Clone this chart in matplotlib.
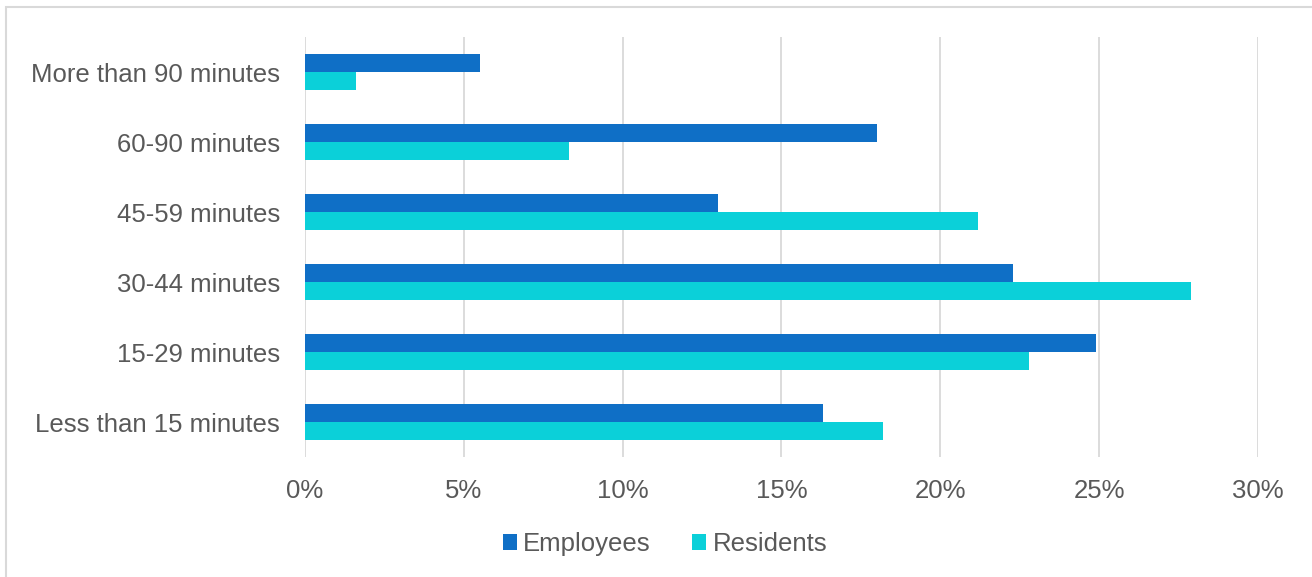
import matplotlib
matplotlib.use('Agg')
import matplotlib.pyplot as plt
from matplotlib.patches import Rectangle
import numpy as np

categories = ['Less than 15 minutes', '15-29 minutes', '30-44 minutes',
              '45-59 minutes', '60-90 minutes', 'More than 90 minutes']
employees = [16.3, 24.9, 22.3, 13.0, 18.0, 5.5]
residents = [18.2, 22.8, 27.9, 21.2, 8.3, 1.6]
xticks = [0, 5, 10, 15, 20, 25, 30]

textColor = '#595959'
gridColor = '#D9D9D9'
fontSize = 18.5
plt.rcParams['font.family'] = ['Liberation Sans', 'DejaVu Sans']

fig = plt.figure(figsize=(13.12, 5.77), dpi=100)
ax = fig.add_axes([305 / 1312, 1 - 457 / 577, (1258 - 305) / 1312, 420 / 577])

# outer frame of the chart
fig.patches.append(Rectangle((6 / 1312, -0.01), 1.0, 1 - 7 / 577 + 0.01,
                             transform=fig.transFigure, fill=False,
                             edgecolor=gridColor, linewidth=1.5))

y = np.arange(len(categories))
h = 0.257
ax.barh(y + h / 2, employees, height=h, color='#0F6FC6', label='Employees')
ax.barh(y - h / 2, residents, height=h, color='#0BD0D9', label='Residents')

ax.set_xlim(0, 30)
ax.set_ylim(-0.5, len(categories) - 0.5)
ax.set_xticks(xticks)
ax.set_xticklabels([str(t) + '%' for t in xticks])
ax.set_yticks(y)
ax.set_yticklabels(categories)
ax.tick_params(axis='both', length=0, colors=textColor, labelsize=fontSize)
ax.tick_params(axis='x', pad=16)
ax.tick_params(axis='y', pad=18)
ax.grid(axis='x', color=gridColor, linewidth=1.3)
ax.set_axisbelow(True)
for s in ax.spines.values():
    s.set_visible(False)

ax.legend(loc='center', bbox_to_anchor=((665 - 305) / 953, -(544 - 457) / 420),
          ncol=2, frameon=False, fontsize=fontSize, labelcolor=textColor,
          handlelength=0.55, handleheight=0.55, handletextpad=0.25, columnspacing=1.6)

fig.savefig('out.png', dpi=100)
